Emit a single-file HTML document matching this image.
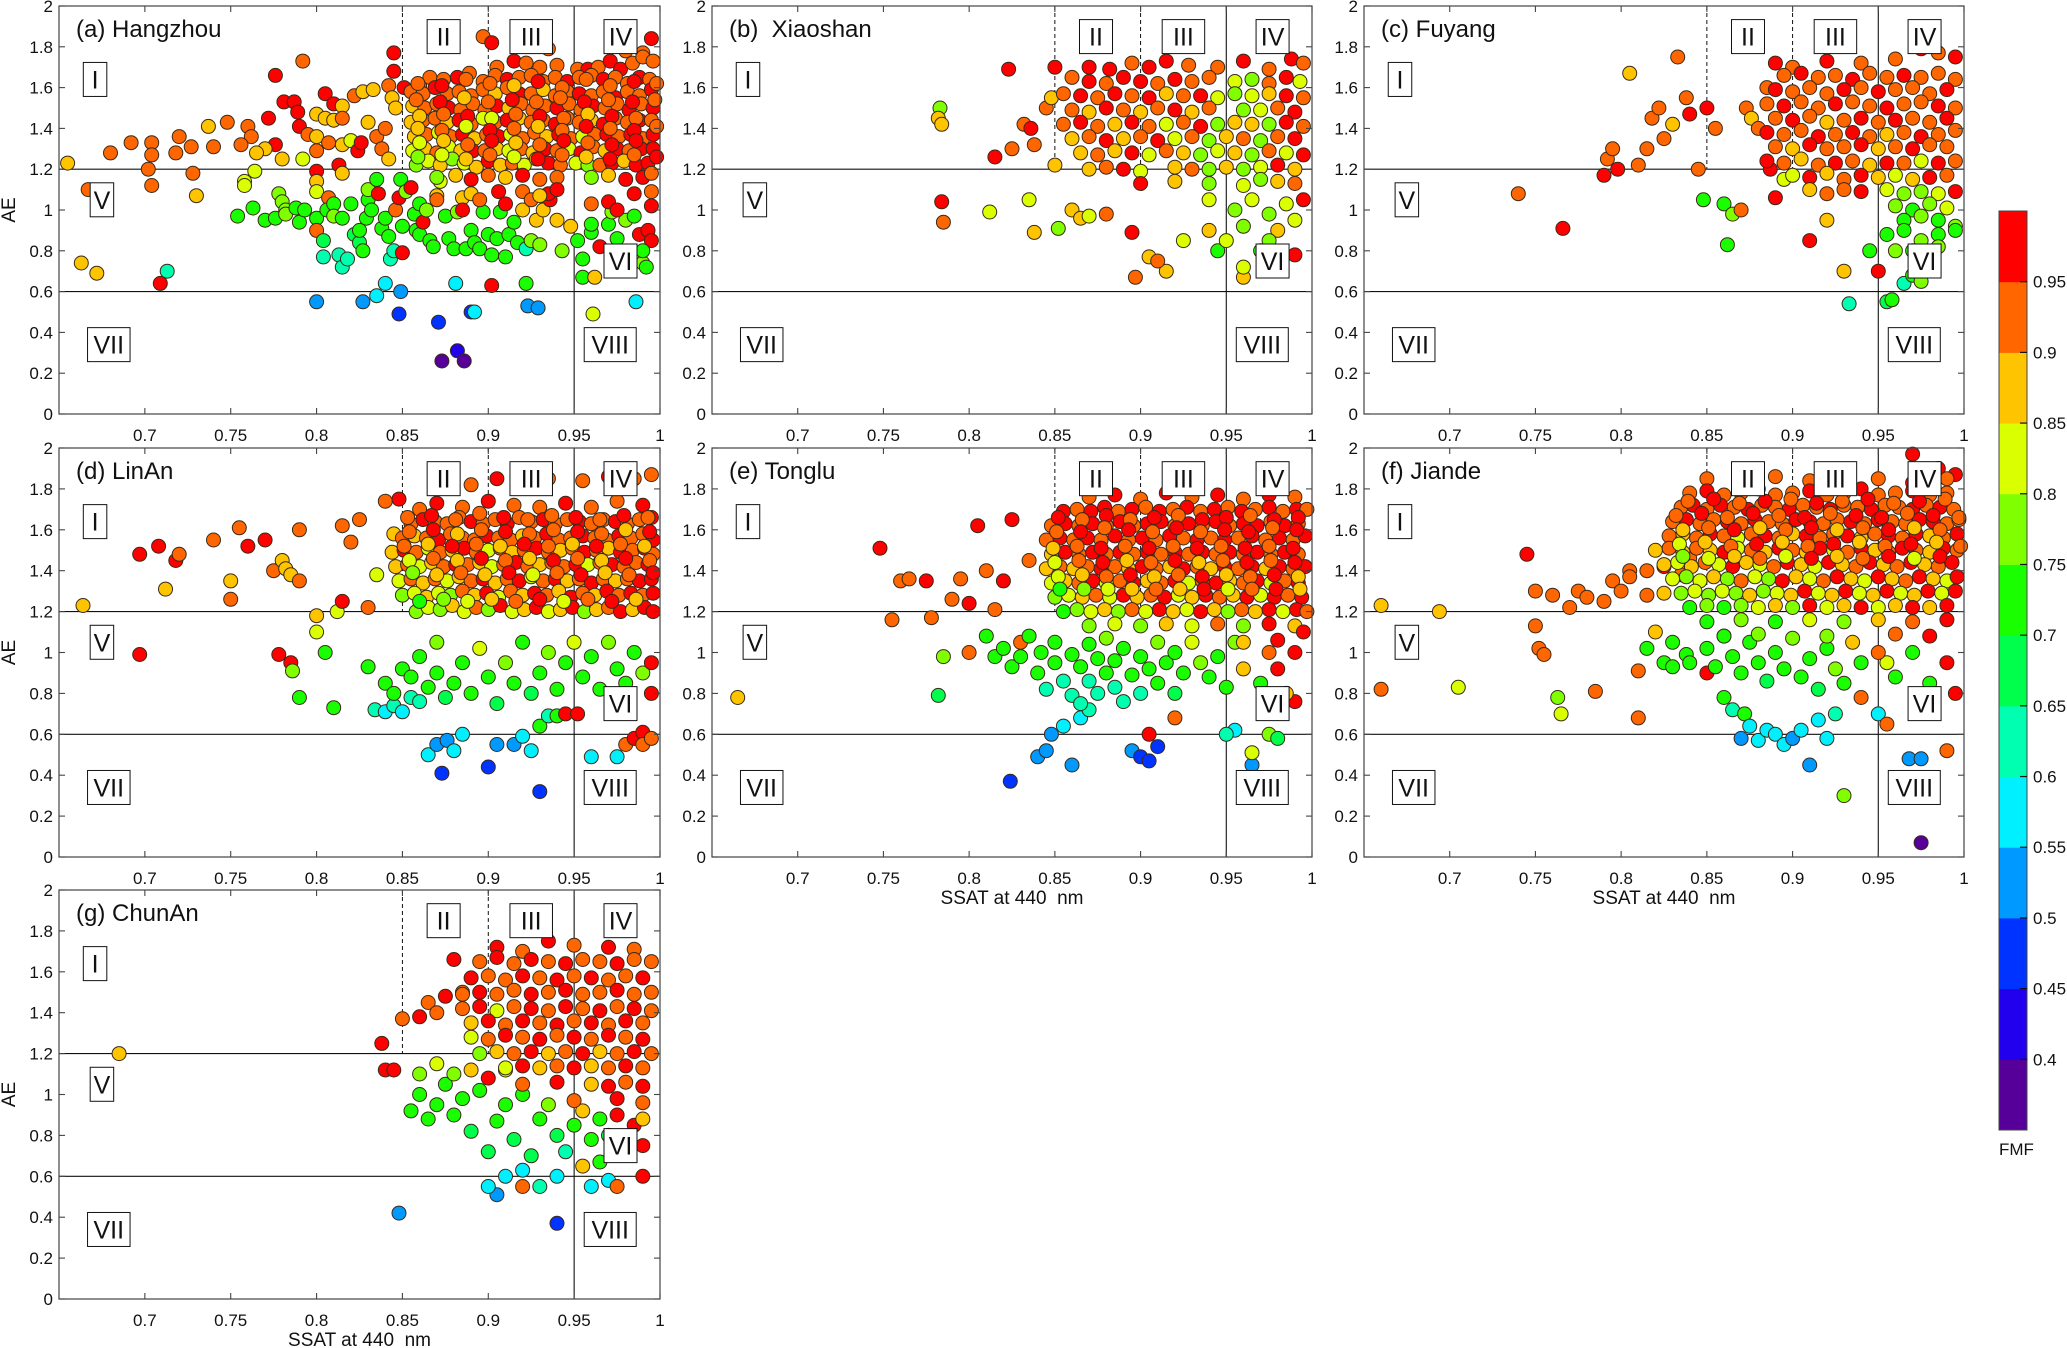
<!DOCTYPE html>
<html><head><meta charset="utf-8">
<style>
html,body{margin:0;padding:0;background:#fff;}
svg{display:block;font-family:"Liberation Sans",Arial,sans-serif;}
</style></head>
<body>
<svg id="fig" width="2067" height="1348" viewBox="0 0 2067 1348" xmlns="http://www.w3.org/2000/svg"></svg>
<script>
// ---------- data ----------
// token: sss = SSAT*1000, aaa = AE*100, then FMF code letter or two digits FMF*100
const fmfCodes = {r:97,o:92,a:87,y:82,l:77,g:72,t:67,q:62,c:57,b:52,B:47,v:42,p:37};
const xTicks = [0.7,0.75,0.8,0.85,0.9,0.95,1];
const xTickLabels = ["0.7","0.75","0.8","0.85","0.9","0.95","1"];
const yTicks = [0,0.2,0.4,0.6,0.8,1,1.2,1.4,1.6,1.8,2];
const yTickLabels = ["0","0.2","0.4","0.6","0.8","1","1.2","1.4","1.6","1.8","2"];
const cbLevels = [0.35,0.4,0.45,0.5,0.55,0.6,0.65,0.7,0.75,0.8,0.85,0.9,0.95,1.0];
const cbColors = ["#560099","#2200ee","#0033ff","#0099ff","#00f0ff","#00ffb0","#00ff4d","#1aff00","#80ff00","#d9ff00","#ffc400","#ff6600","#ff0000"];
const cbTickLabels = ["0.4","0.45","0.5","0.55","0.6","0.65","0.7","0.75","0.8","0.85","0.9","0.95"];
const panelTitles = ["(a) Hangzhou","(b)  Xiaoshan","(c) Fuyang","(d) LinAn","(e) Tonglu","(f) Jiande","(g) ChunAn"];

const dataA = `792173o 776166r 845168r 845177r 851160r 781153r 787153r 789148r 805157r 810152r 815151a 822156o 827158a 833159a 842161o 844155a 846150a 800147a 805145a 810144a 815145o 772145r 790141r 795137o 800136a 760141o 762136o 756132o 748143o 740131o 737141a 776132r 770130a 765128a 727131o 720136o 718128o 704133o 704127o 692133o 680128o 702120o 704112o 728118o 730107a 655123a 667110o 780125a 792125y 764119y 758114y 758112y 800129o 800119r 800114a 800109y 807106o 813122r 815118a 815132a 807133o 820134y 824129r 826133r 830143a 835136o 840140o 838130o 842125a
754097g 763101g 770095g 776096g 778108l 780104l 782100l 782098l 788101g 790094g 793100g 800096g 800090o 804085t 804077q 806100g 810103g 810097l 815096g 813078q 815072q 818076q 820103g 822088t 825084t 825090g 827080g 829096g 830105g 830110l 832100g 835115g 836108r 838091g 840096g 842087g 843076q 845080q 846100o 848106r 849115g 850092g 850079r 852109l 855111r 857098g 858090g 860088g 860103g 862094r 864100l 866085g 868082g 870107a 872114y 875097g 877086g 880081g 882099l 885106a 887081g 890090g 892084g 895081g 897099g 900088g 902078g 905086g 907099g 910077g 912088g 915094g 917084g 920100a 922081q 925085l 928095a 930083l 932100a 936105r 940095a 943080l 948092a 952085g 955076g 955067g 960089g 962067a 965082r 970093g 975086g 978078g 980095l 985097g 988088r 990074l 992072g 993090r 995085r 990080g 960093g 972099l
663074a 672069a 709064r 713070q 800055b 827055b 835058c 840064c 849060b 848049B 871045B 881064c 882031v 873026p 886026p 890050B 892050c 902063r 922064g 923053b 929052b 961049y 986055c
897185o 902182r 917185r 935179o 995184r 990177o 980178o
90517092 91517397 92217292 93017092 94017192 95216992 95816997 96417092 97117397 97716997 98417292 99017592 99617392
86016192 86616592 87416492 88216597 88916792 89716392 90416692 91116497 91816592 92516692 93216392 93916592 94616397 95316592 96016692 96716497 97416592 98116292 98816597 99416492
85515892 86215792 86916097 87615792 88315892 89015692 89715992 90415787 91116092 91815797 92515792 93215987 93915692 94615892 95315797 96015692 96715892 97415597 98115892 98815692 99515997
85615187 86315092 87015292 87715097 88414992 89115292 89814992 90515197 91215087 91915292 92614992 93315192 94015097 94715292 95414992 96115197 96815092 97515292 98214997 98915292 99615097
85514387 86214492 86914592 87614387 88314497 89014292 89714582 90414392 91114497 91814587 92514392 93214492 93914297 94614592 95314392 96014487 96714297 97414592 98114392 98814497 99514492
85713687 86413792 87113882 87813692 88513797 89213587 89913792 90613697 91313782 92013592 92713892 93413687 94113797 94813592 95513682 96213792 96913797 97613692 98313797 99013592 99613797
85612982 86313087 87012892 87713182 88412987 89112997 89812992 90513087 91212982 91913092 92612887 93313097 94012992 94713082 95412897 96113192 96812987 97513097 98212992 98913097 99613097
85812277 86512482 87212287 87912577 88612382 89312187 90012497 90712287 91412392 92112282 92812587 93512397 94212292 95112382 95812277 96512292 97212397 97912487 98612297 99312397
85916292 87316197 88716492 90116292 91516187 92916397 94316092 95716492 97116192 98516397 99816292
85815492 87215397 88615587 90015392 91415497 92815392 94215592 95615397 97015492 98415397 99715492
86014687 87414792 88814697 90214582 91614792 93014697 94414592 95814787 97214697 98614592
85914087 87313992 88714182 90113997 91514092 92914187 94313992 95714197 97114092 98513997 99814192
86013382 87413487 88813292 90213497 91613387 93013292 94413497 95813392 97213297 98613497
85912677 87312782 88712587 90112792 91512682 92912597 94312792 95712687 97112597 98512792 99812697
87011677 88111787 89011597 90011792 91011687 92011797 93011592 94011692 96011677 97011787 98011597 99011697 99511892
89010887 90610997 92010992 93510897 98510897 99510992 87010592 88510097 89510592 91010397 92510592 93010787 94011097 96010392 97010497 97510097 99510297`;

const dataB = `783150l 782145a 784142a 784104r 785094o 812099y 815126r 823169r 825130o 832142o 836140r 838132o 835105y 838089a 845150o 848155a 850170r 850122a 852091l 860100a 865096a 870097y 880098o 895089r 897067o 915070a 905077a 910075o 925085y 940090a 945080g 950085y 960067a 960072y 970080g 990078r
87017097 88216997 89517292 90517097 91517397 92817192 94517092 96017397 97516992 98817497 99517292
86016592 87016397 88016292 89016597 90016397 91016292 92016497 93016392 94016592 95516382 96516477 97516292 98516597 99316382
85515792 86515697 87515592 88515797 89515692 90515597 91515787 92515692 93515697 94515582 95515777 96515682 97515787 98515697 99515592
86014992 87014887 88015097 89014992 90014887 91015092 92014997 93014887 94015092 96014977 97014982 98015092 99014897
85514292 86514397 87514192 88514287 89514397 90514192 91514282 92514392 93514197 94514277 95514387 96514287 97514277 98514397 99514192
86013587 87013692 88013497 89013587 90013692 91013497 92013582 93013692 94013477 95013687 96013592 97013477 98013692 99013597
86512887 87512792 88512987 89512897 90512782 91512992 92512887 93512777 94512982 95512887 96512777 97512992 98512882 99512797
87012087 88012192 89012097 90011982 92012187 93012092 94012077 95012187 96012077 97012182 98012297 99012087
90011397 92011487 94011377 96011282 97011577 98011487 99011392
94010582 95510077 96510582 97509877 98510382 99510597 96009277 98009087 99009582 97508577`;

const dataC = `740108o 766091r 790117r 792125o 795130o 798120r 805167a 810122o 815130o 818145o 822150o 825135o 830142a 833175o 838155o 840147r 845120o 848105g 850150r 855140o 860103g 862083g 865098l 870100o 873150o 876145a 880140o 885160o 887120r 890106r 890172r 895115y 900170o 910085r 920095a 930070a 933054q 945080g 950070r 955055t 958056g 965064q 970068g 975065l
92017397 94017292 96017492 97517997 98517792 99517597
89516692 90516797 91516592 92516692 93516497 94516792 95516592 96516697 97516592 98516792 99516492
89015997 90015892 91016092 92015792 93015997 94016092 95015897 96015992 97016092 98015792 99015997
88515292 89515197 90515392 91515092 92515297 93515392 94515192 95515097 96515292 97515392 98515197 99515092
89014592 90014497 91014692 92014387 93014492 94014597 95014392 96014497 97014592 98014392 99014597
88513897 89513792 90513992 91513697 92513792 93513897 94513692 95513787 96513892 97513697 98513792 99513992
89013192 90013087 91013297 92013092 93013192 94013297 95013087 96013192 97013097 98013292 99013192
88512497 89512392 90512587 91512292 92512397 93512492 94512287 95512397 96512392 97512482 98512397 99512492
90011782 91011697 92011887 93011592 94011797 95011687 96011782 97011587 98011697 99011792
91011087 92010892 93011092 94010997 95511082 96510877 97510977 98510882 99510997
96010277 97010072 98010377 99010182 96509572 97509777 98509572 99509277
95508872 96509072 97508577 98508872 99509072 96008077 97008072 98508277`;

const dataD = `664123a 697099r 697148r 708152r 712131a 718145r 720148o 740155o 750135a 750126o 755161o 760152r 770155r 775140o 780145a 782141a 785138a 790135o 790160o 778099r 785095r 786091l 790078g 800110y 800118a 805100g 810073g 812120y 815125r 815162o 820154o 825165o 830122o 830093g 835138y 840174o 845158a 848175r
834072q 840071c 845074q 850071c 855078q 860076q 865050c 870055b 873041B 876057b 880052c 885060c 900044B 905055b 915055b 920059c 925052c 930032B 930064g 935069q 940069g 945070r 952070r 960049c 975049c 980055o 985058r 990061r 990055o 995058o
840085g 845080g 850092g 855088g 860098g 865083g 870105l 870090g 875078t 880085g 885095g 890080g 895102y 900088g 905075t 910095l 915085g 920105g 925080t 930090g 935100l 940082g 945095g 950105y 955088g 960098g 965082g 970105l 975092g 980085g 985100g 990090l 995080r 995095r
89018292 90518597 92018392 93518592 95518492 97018697 98518592 99518792
86017092 87017397 88517192 90017497 91517292 93017192 94517397 96017192 97517492 99017297
85516392 86216597 86916492 87616392 88316692 89016497 89716392 90416592 91116397 91816692 92516492 93216597 93916392 94616592 95316497 96016392 96716592 97416497 98116392 98816592 99516697
85015692 85715787 86415692 87115597 87815892 88515692 89215592 89915797 90615692 91315592 92015787 92715692 93415897 94115592 94815692 95515797 96215692 96915592 97615797 98315692 99015892 99615597
84414987 85115097 85814992 86515182 87214992 87915087 88615197 89314992 90015082 90715192 91414987 92115092 92815197 93514992 94215087 94915192 95614997 96315092 97015187 97714997 98415092 99115197 99614892
84614287 85314392 86014282 86714487 87414292 88114397 88814392 89514487 90214282 90914392 91614497 92314292 93014387 93714492 94414292 95114397 95814382 96514492 97214397 97914292 98614492 99314397
84813582 85513692 86213487 86913692 87613582 88313787 89013592 89713697 90413487 91113692 91813597 92513782 93213592 93913697 94613587 95313692 96013497 96713692 97413587 98113692 98813597 99513697
85012877 85712982 86412787 87112982 87812877 88513092 89212887 89912997 90612782 91313092 92012887 92712997 93412892 94113087 94812797 95512992 96212887 96913097 97612892 98312997 99012892 99612997
85812077 86512282 87212177 87912387 88612082 89312292 90012177 90712397 91412082 92112187 92812297 93512082 94212187 94912297 95612077 96312187 97012292 97712097 98412187 99112297 99612097
85316692 86716797 88116592 89516892 90916697 92316592 93716792 95116697 96516592 97916797 99316692
85415992 86816097 88215887 89616092 91015997 92415892 93816092 95215997 96615892 98016087 99415997
85115292 86515387 87915297 89315392 90715287 92115397 93515292 94915387 96315297 97715392 99115287
85414582 86814692 88214587 89614697 91014592 92414687 93814597 95214692 96614587 98014697 99414592
85613977 87013887 88413992 89813887 91213997 92613882 94013992 95413897 96813987 98213892 99613997
86012572 87412677 88812582 90212687 91612592 93012697 94412582 95812692 97212597 98612687`;

const dataE = `665078a 748151r 755116o 760135o 765136o 775135r 778117o 782079t 785098l 790126o 795136o 800124r 800100o 805162r 810140o 815121o 820135r 824037B 825165r 830105o 835145o 840049b 845052b 848060b 860045b 855064c 865068c 870072q 895052b 900049B 905047B 910054B 905060r 920068o 955062c 950060q 965045b 965051y 975060l 980058t 990076r
810108g 815098g 820102g 825093g 830098g 835108g 840090g 842100g 845082q 850095g 850105g 855086q 860099g 860079q 865093g 865075q 870104g 870086q 875097g 875080q 880090g 880107l 885083q 885096g 890102g 890076q 895089g 900098g 900080q 905092g 910105l 910085g 915095g 920080t 920100g 925090g 930105y 935095l 940088g 945098g 950083g 955105l 960092a 970085g 975100o 980092r 985080a 990100r
87017692 88517797 90017592 91517897 93017692 94517797 96017592 97517797 99017692
85516997 86317092 87116997 87917197 88716992 89517097 90317192 91116997 91917092 92717197 93516992 94317097 95117192 95916997 96717092 97517197 98316992 99117097 99717092
84816292 85616397 86416292 87216397 88016292 88816497 89616292 90416397 91216497 92016292 92816397 93616292 94416497 95216292 96016397 96816297 97616492 98416297 99216392
84515592 85315697 86115592 86915697 87715592 88515797 89315592 90115697 90915592 91715797 92515692 93315597 94115692 94915597 95715692 96515797 97315592 98115697 98915592 99615797
84814887 85614997 86414892 87214997 88014892 88814997 89614892 90414997 91214892 92014997 92814892 93614997 94414892 95214997 96014892 96814997 97614892 98414997 99214892
84514187 85314292 86114187 86914292 87714197 88514292 89314187 90114297 90914192 91714287 92514197 93314292 94114187 94914297 95714192 96514297 97314187 98114297 98914192 99614297
84813482 85613587 86413492 87213597 88013482 88813592 89613497 90413587 91213492 92013597 92813482 93613592 94413497 95213587 96013492 96813597 97613482 98413592 99213497
85012777 85812882 86612787 87412892 88212782 89012897 89812787 90612892 91412797 92212882 93012787 93812897 94612792 95412887 96212797 97012882 97812797 98612892 99412797
85512072 86312177 87112082 87912187 88712077 89512192 90312082 91112197 91912087 92712182 93512097 94312187 95112077 95912192 96712087 97512197 98312082 99112197 99712092
85216697 86616592 88016797 89416592 90816697 92216792 93616597 95016697 96416792 97816597 99216697
85115992 86515997 87916192 89316097 90715992 92116197 93515992 94916097 96315997 97716192 99116097
84915187 86315292 87715197 89115292 90515197 91915292 93315197 94715292 96115197 97515292 98915197
85014482 86414592 87814497 89214587 90614492 92014597 93414487 94814592 96214497 97614592 99014497
85213782 86613887 88013792 89413897 90813787 92213892 93613797 95013887 96413792 97813897 99213787
85313172 86713177 88113182 89513187 90913192 92313187 93713197 95113182 96513192 97913197 99313187
87011377 88511482 90011377 91511487 93011382 94511492 96011377 97511497 99011387 99511097 96010587 98010697`;

const dataF = `660123a 660082o 694120a 705083y 745148r 750130o 750113o 752102o 755099o 760128o 763078l 765070y 770122o 775130o 780127o 785081o 790125o 795135o 800130o 805140o 810091o 810068o 815102g 820110a 825095g 830093g 838099g 840146o 850090r 860078g 865072q 870058b 872070g 875064c 880057c 885062c 890060c 895055c 900058b 905062c 910045b 915067c 920058c 925070q 930030l 940078o 950070c 955065o 968048b 975048b 975007p 990052o 970197r 985190r 995187r 955095y
830105g 840095g 850102g 855093g 860108g 865098g 870090g 875105g 880095g 885086t 890100g 895092g 900107l 905088g 910097g 915082t 920102g 925092l 930085g 935105a 940095g 950100o 960088g 970100g 980085g 990095r 995080r
80513792 81514092 82514297 83513892 82512987 81512892
85018592 87018397 89018692 91018492 93018697 95018592 97018397 99018592
84017892 85017997 86017792 87017892 88018097 89017792 90017892 91017997 92017792 93017892 94018097 95017792 96017892 97017997 98017792 99017892
83517192 84217297 85017092 85817297 86617192 87417097 88217292 89017192 89817097 90617292 91417192 92217097 93017292 93817192 94617097 95417292 96217192 97017097 97817292 98617197 99417092
83016492 83816597 84616392 85416592 86216497 87016392 87816597 88616492 89416392 90216597 91016497 91816392 92616592 93416497 94216392 95016597 95816492 96616392 97416597 98216497 99016392 99716592
82815792 83615887 84415692 85215897 86015792 86815682 87615892 88415797 89215692 90015887 90815797 91615692 92415892 93215797 94015687 94815892 95615797 96415692 97215897 98015787 98815692 99615897
82015087 82815192 83614987 84415192 85215087 86014997 86815182 87615092 88414987 89215197 90015092 90814987 91615197 92415082 93214992 94015197 94815087 95614992 96415197 97215092 98014987 98815197 99615092
82514387 83314482 84114287 84914492 85714382 86514297 87314487 88114382 88914292 89714497 90514387 91314282 92114497 92914387 93714292 94514497 95314387 96114292 96914497 97714387 98514292 99314497
83013682 83813777 84613582 85413787 86213677 87013592 87813782 88613677 89413597 90213787 91013682 91813592 92613797 93413687 94213582 95013797 95813687 96613592 97413797 98213687 99013582 99613797
83512977 84313082 85112877 85913082 86712977 87512887 88313077 89112982 89912887 90713097 91512982 92312887 93113097 93912982 94712887 95513097 96312982 97112887 97913097 98712982 99513097
84012272 85012377 86012272 87012377 88012282 89012387 90012277 91012397 92012282 93012387 94012297 95012282 96012387 97012297 98012287 99012397
83917492 85417597 86917392 88417497 89917592 91417397 92917492 94417597 95917392 97417497 98917592
83216792 84716897 86216692 87716897 89216792 90716697 92216892 93716797 95216697 96716892 98216797 99716692
83616087 85116192 86616097 88116187 89616092 91116197 92616087 94116192 95616097 97116187 98616092
83415382 84915487 86415292 87915397 89415487 90915292 92415397 93915487 95415292 96915397 98415487 99915292
83614777 85114682 86614787 88114692 89614782 91114697 92614787 94114692 95614797 97114682 98614797
85011572 87011677 89011572 91011682 93011577 95011687 97011592 99011697 86010872 88010977 92010877 96010992 98010897`;

const dataG = `685120a 838125r 840112r 845112r 848042b 850137o 860138r 865145o 870140o 875148r 880166r 885150o 940037B 920055o 905051b 900055c 910060c 920063c 930055q 940060c 960055c 970058c 975055o 990075r 990060r 955065a 965067g
855092g 860100g 865088g 870095g 875105g 880090g 885098g 890082t 895102g 900072t 905087g 910095g 915078t 920100g 925070t 930088g 935095l 940080t 945072q 950085g 955092a 960078g 965088g 970080t 975090r 980075g 985085r 990088a 860110l 870115y 880110l 890112a 900108r 910112y
90517297 92017092 93517597 95017392 97017297 98517192
89516592 90516797 91516492 92516697 93516592 94516497 95516692 96516592 97516497 98516692 99516592
89015797 90015892 91015692 92015897 93015792 94015697 95015892 96015797 97015692 98015892 99015797
88514992 89515097 90514992 91515192 92514997 93515092 94515197 95514992 96515092 97515197 98514992 99515092
88514292 89514397 90514182 91514392 92514297 93514192 94514397 95514292 96514197 97514392 98514297 99514192
89013587 90013697 91013492 92013697 93013592 94013497 95013692 96013597 97013492 98013697 99013592
89012882 90012792 91012997 92012892 93012797 94012992 95012897 96012792 97012997 98012892 99012797
89512077 90512187 91512092 92512197 93512087 94512192 95512097 96512187 97512092 98512197 99512092
91011382 92011497 93011387 94011492 95011397 96011487 97011392 98011497 99011392
92010592 94010697 96010587 97010497 98010692 99010497 95009792 97509897 99009692`;

const panelData = [dataA,dataB,dataC,dataD,dataE,dataF,dataG];

// ---------- layout ----------
const colX = [[59,660],[712,1312],[1364,1964]];
const rowY = [[6,414],[448,857],[890,1299]];
const panelPos = [[0,0],[1,0],[2,0],[0,1],[1,1],[2,1],[0,2]];
const X0 = 0.65, X1 = 1.0, Y0 = 0, Y1 = 2;
const NS = "http://www.w3.org/2000/svg";
const svg = document.getElementById('fig');

function mk(tag, attrs, parent){
  const e = document.createElementNS(NS, tag);
  for (const k in attrs) e.setAttribute(k, attrs[k]);
  (parent||svg).appendChild(e);
  return e;
}
function parse(str){
  return str.trim().split(/\s+/).map(t=>{
    const s = +t.slice(0,3)/1000, ae = +t.slice(3,6)/100;
    const rest = t.slice(6);
    const f = (rest in fmfCodes) ? fmfCodes[rest]/100 : +rest/100;
    return [s===0.999?0.998:s, ae, f];
  });
}
function colorFor(f){
  for (let i=0;i<cbColors.length;i++){ if (f < cbLevels[i+1]) return cbColors[i]; }
  return cbColors[cbColors.length-1];
}

const boxes = [["I",0.671,1.64],["II",0.874,1.85],["III",0.925,1.85],["IV",0.977,1.85],["V",0.675,1.05],["VI",0.977,0.75],["VII",0.679,0.34],["VIII",0.971,0.34]];

panelPos.forEach((pp, pi)=>{
  const [xa, xb] = colX[pp[0]], [ya, yb] = rowY[pp[1]];
  const sx = v => xa + (v - X0)/(X1 - X0)*(xb - xa);
  const sy = v => yb - (v - Y0)/(Y1 - Y0)*(yb - ya);
  const g = mk('g', {});
  
  

  const refs = mk('g', {stroke:'#111','stroke-width':1.1}, g);
  
  
  mk('line',{x1:xa,x2:xb,y1:sy(1.2),y2:sy(1.2)},refs);
  mk('line',{x1:xa,x2:xb,y1:sy(0.6),y2:sy(0.6)},refs);
  mk('line',{x1:sx(0.95),x2:sx(0.95),y1:ya,y2:yb},refs);
  mk('line',{x1:sx(0.85),x2:sx(0.85),y1:ya,y2:sy(1.2),'stroke-dasharray':'4,3','stroke-width':1},refs);
  mk('line',{x1:sx(0.9),x2:sx(0.9),y1:ya,y2:sy(1.2),'stroke-dasharray':'4,3','stroke-width':1},refs);

  const pts = mk('g', {}, g);
  
  
  parse(panelData[pi]).forEach(p=>{
    if (p[1] > 2 || p[1] < 0) return;
    const c = mk('circle',{cx:sx(p[0]).toFixed(1),cy:sy(p[1]).toFixed(1),r:7,fill:colorFor(p[2]),stroke:'#3a2a1a','stroke-width':1},pts);
    
    
  });

  boxes.forEach(b=>{
    const w = 14 + b[0].length*9.5, h = 34;
    const cx = sx(b[1]), cy = sy(b[2]);
    const bg = mk('g', {}, g);
    
    
    mk('rect',{x:cx-w/2,y:cy-h/2,width:w,height:h,fill:'#fff',stroke:'#111','stroke-width':1},bg);
    const t = mk('text',{x:cx,y:cy+9,'text-anchor':'middle','font-size':25,fill:'#111'},bg);
    t.textContent = b[0];
  });

  const ax = mk('rect',{x:xa,y:ya,width:xb-xa,height:yb-ya,fill:'none',stroke:'#444','stroke-width':1.2},g);
  
  
  const tk = mk('g',{stroke:'#444','stroke-width':1.1},g);
  
  
  xTicks.forEach(v=>{ mk('line',{x1:sx(v),x2:sx(v),y1:yb,y2:yb-6},tk); mk('line',{x1:sx(v),x2:sx(v),y1:ya,y2:ya+6},tk); });
  yTicks.forEach(v=>{ mk('line',{x1:xa,x2:xa+6,y1:sy(v),y2:sy(v)},tk); mk('line',{x1:xb,x2:xb-6,y1:sy(v),y2:sy(v)},tk); });

  const xl = mk('g',{'font-size':17,fill:'#111','text-anchor':'middle'},g);
  
  
  xTicks.forEach((v,i)=>{ const t=mk('text',{x:sx(v),y:yb+27},xl); t.textContent=xTickLabels[i]; });
  const yl = mk('g',{'font-size':17,fill:'#111','text-anchor':'end'},g);
  
  
  yTicks.forEach((v,i)=>{ const t=mk('text',{x:xa-6,y:sy(v)+6},yl); t.textContent=yTickLabels[i]; });

  const tt = mk('text',{x:xa+17,y:ya+31,'font-size':24,fill:'#111'},g);
  
  
  tt.style.whiteSpace = 'pre';
  tt.textContent = panelTitles[pi];

  if (pp[0]===0){
    const a = mk('text',{x:0,y:0,'font-size':19,fill:'#111','text-anchor':'middle',transform:`translate(15,${(ya+yb)/2}) rotate(-90)`},g);
    
    
    a.textContent = 'AE';
  }
  if (pi>=4){
    const a = mk('text',{x:(xa+xb)/2,y:yb+47,'font-size':19,fill:'#111','text-anchor':'middle'},g);
    
    
    a.style.whiteSpace = 'pre';
    a.textContent = 'SSAT at 440  nm';
  }
});

// colorbar
const cbX = 1999, cbW = 28, cbTop = 211, cbBot = 1130;
const cy = v => cbBot - (v - cbLevels[0])/(cbLevels[cbLevels.length-1]-cbLevels[0])*(cbBot-cbTop);
const cb = mk('g',{});


cbColors.forEach((c,i)=>{
  mk('rect',{x:cbX,y:cy(cbLevels[i+1]),width:cbW,height:cy(cbLevels[i])-cy(cbLevels[i+1])+0.5,fill:c},cb);
});
mk('rect',{x:cbX,y:cbTop,width:cbW,height:cbBot-cbTop,fill:'none',stroke:'#444','stroke-width':1},cb);
cbTickLabels.forEach((l,i)=>{
  const v = cbLevels[i+1];
  mk('line',{x1:cbX+cbW-7,x2:cbX+cbW,y1:cy(v),y2:cy(v),stroke:'#111','stroke-width':1.2},cb);
  const t = mk('text',{x:cbX+cbW+6,y:cy(v)+6,'font-size':17,fill:'#111'},cb);
  t.textContent = l;
});
const fm = mk('text',{x:cbX,y:1155,'font-size':17,fill:'#111'},cb);


fm.textContent = 'FMF';
</script>
</body></html>
